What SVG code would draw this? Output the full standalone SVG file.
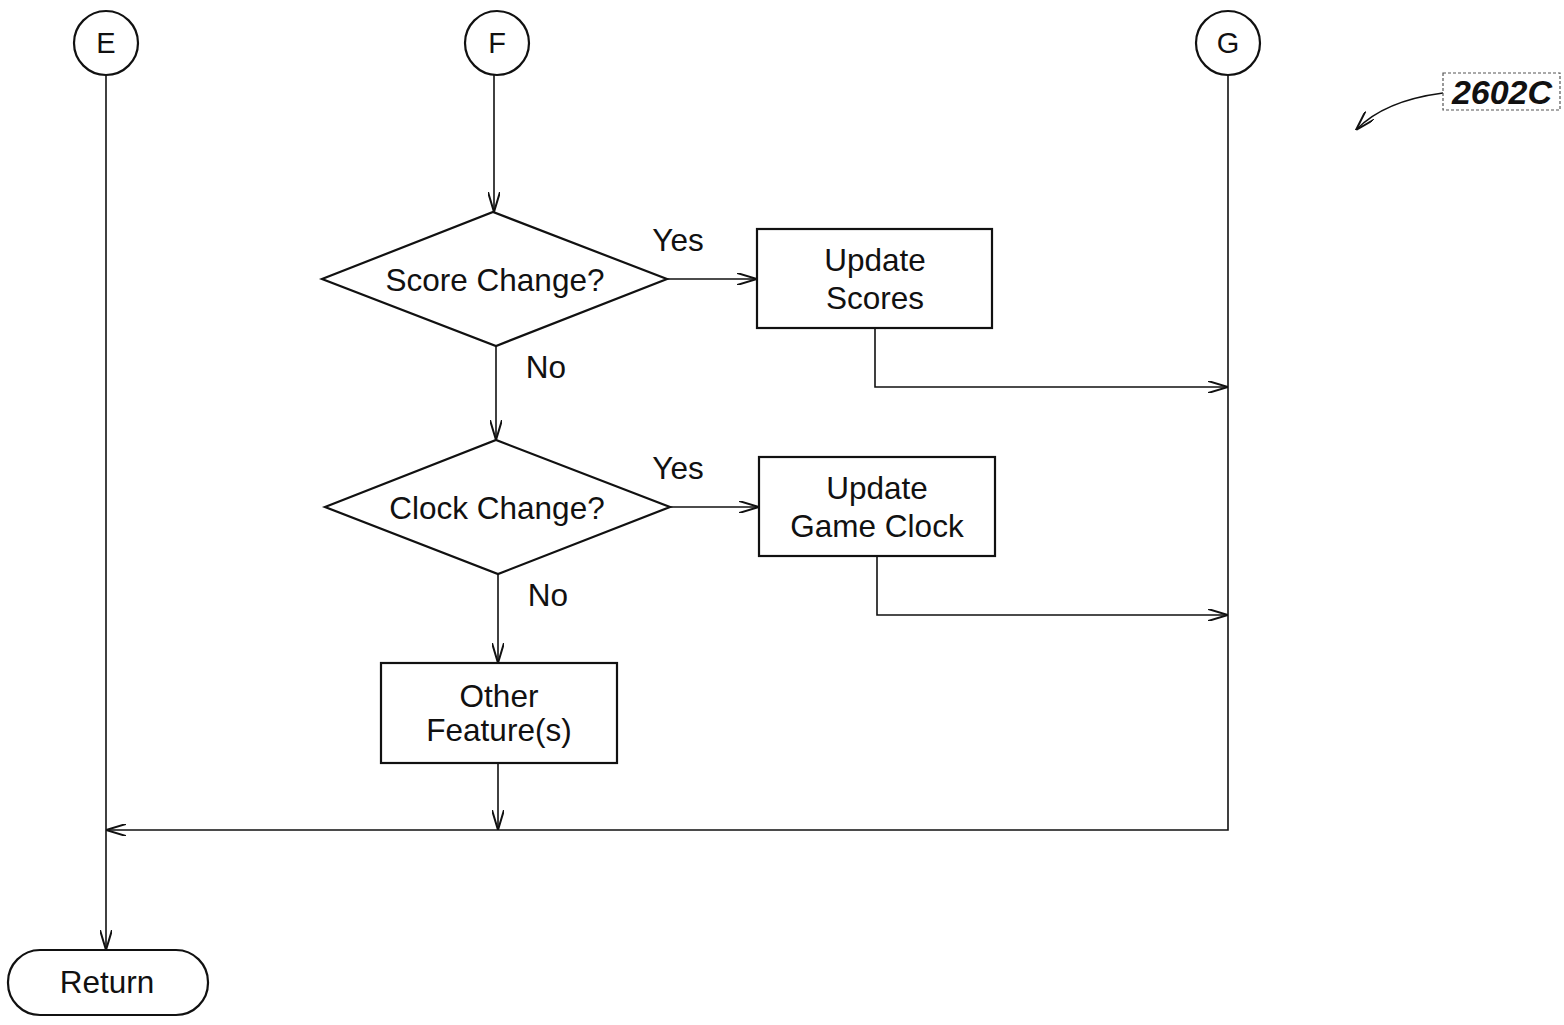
<svg xmlns="http://www.w3.org/2000/svg" width="1564" height="1025" viewBox="0 0 1564 1025">
<style>
.s{fill:#fff;stroke:#111;stroke-width:2.2}
.c{fill:none;stroke:#111;stroke-width:1.6}
text{font-family:"Liberation Sans",Arial,sans-serif;font-size:31.5px;fill:#111}
.m{text-anchor:middle}
.k{font-size:29px}
</style>
<defs>
<marker id="a" viewBox="0 0 20 12" refX="20" refY="6" markerWidth="20" markerHeight="12" markerUnits="userSpaceOnUse" orient="auto">
<path d="M0,0 L20,6 L0,12" fill="none" stroke="#111" stroke-width="2"/>
</marker>
</defs>
<rect width="1564" height="1025" fill="#fff"/>
<g id="connectors">
<line class="c" x1="106" y1="75" x2="106" y2="950" marker-end="url(#a)"/>
<line class="c" x1="494" y1="75" x2="494" y2="212" marker-end="url(#a)"/>
<line class="c" x1="667" y1="279" x2="757" y2="279" marker-end="url(#a)"/>
<polyline class="c" points="875,328 875,387 1228,387" marker-end="url(#a)"/>
<line class="c" x1="496" y1="346" x2="496" y2="440" marker-end="url(#a)"/>
<line class="c" x1="670" y1="507" x2="759" y2="507" marker-end="url(#a)"/>
<polyline class="c" points="877,556 877,615 1228,615" marker-end="url(#a)"/>
<line class="c" x1="498" y1="574" x2="498" y2="663" marker-end="url(#a)"/>
<line class="c" x1="498" y1="763" x2="498" y2="830" marker-end="url(#a)"/>
<polyline class="c" points="1228,75 1228,830 106,830" marker-end="url(#a)"/>
<path class="c" d="M1443,93 C1405,98 1375,110 1356,130" marker-end="url(#a)"/>
<text x="678" y="251" class="m">Yes</text>
<text x="546" y="378" class="m">No</text>
<text x="678" y="479" class="m">Yes</text>
<text x="548" y="606" class="m">No</text>
</g>
<g id="E"><circle class="s" cx="106" cy="43" r="32"/><text x="106" y="53" class="m k">E</text></g>
<g id="F"><circle class="s" cx="497" cy="43" r="32"/><text x="497" y="53" class="m k">F</text></g>
<g id="G"><circle class="s" cx="1228" cy="43" r="32"/><text x="1228" y="53" class="m k">G</text></g>
<g id="score"><polygon class="s" points="322,279 493,212 667,279 496,346"/><text x="495" y="291" class="m">Score Change?</text></g>
<g id="updateScores"><rect class="s" x="757" y="229" width="235" height="99"/><text x="875" y="271" class="m">Update</text><text x="875" y="309" class="m">Scores</text></g>
<g id="clock"><polygon class="s" points="325,507 496,440 670,507 498,574"/><text x="497" y="519" class="m">Clock Change?</text></g>
<g id="updateClock"><rect class="s" x="759" y="457" width="236" height="99"/><text x="877" y="499" class="m">Update</text><text x="877" y="537" class="m">Game Clock</text></g>
<g id="other"><rect class="s" x="381" y="663" width="236" height="100"/><text x="499" y="707" class="m">Other</text><text x="499" y="741" class="m">Feature(s)</text></g>
<g id="return"><rect class="s" x="8" y="950" width="200" height="65" rx="32"/><text x="107" y="993" class="m">Return</text></g>
<g id="label"><rect x="1443" y="73" width="117" height="37" fill="none" stroke="#555" stroke-width="1.2" stroke-dasharray="3,2"/><text x="1502" y="104" class="m" style="font-style:italic;font-weight:bold;font-size:34px">2602C</text></g>
</svg>
